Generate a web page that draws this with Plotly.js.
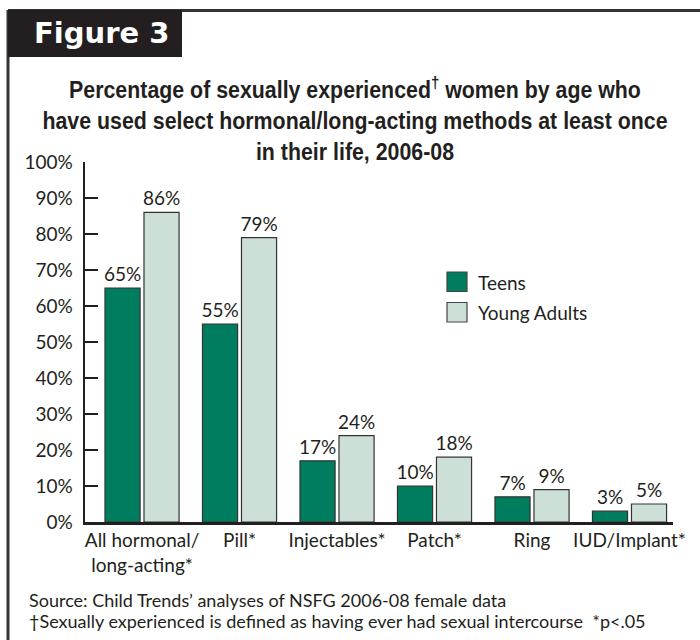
<!DOCTYPE html>
<html>
<head>
<meta charset="utf-8">
<script src="https://cdn.plot.ly/plotly-3.0.1.min.js"></script>
<style>html,body{margin:0;padding:0;background:#fff;}#chart{width:700px;height:640px;}</style>
</head>
<body>
<div id="chart"></div>
<script>
// ---- data ----
const categories = ['All hormonal/<br>long-acting*', 'Pill*', 'Injectables*', 'Patch*', 'Ring', 'IUD/Implant*'];
const teens = [65, 55, 17, 10, 7, 3];
const youngAdults = [86, 79, 24, 18, 9, 5];
const seriesNames = ['Teens', 'Young Adults'];
const yTickVals = [0, 10, 20, 30, 40, 50, 60, 70, 80, 90, 100];
const yTickText = ['0%', '10%', '20%', '30%', '40%', '50%', '60%', '70%', '80%', '90%', '100%'];
const boundaryTicks = [0.5, 1.5, 2.5, 3.5, 4.5, 5.446];

const titleText = 'Percentage of sexually experienced<sup>†</sup> women by age who<br>have used select hormonal/long-acting methods at least once<br>in their life, 2006-08';
const figureLabel = 'Figure 3';
const sourceNote = 'Source: Child Trends’ analyses of NSFG 2006-08 female data';
const defNote = '†Sexually experienced is defined as having ever had sexual intercourse  *p&lt;.05';

// ---- style ----
const colTeens = '#007d5f';
const colYoung = '#cce0d8';
const ink = '#231f20';
const txtFont = 'Lato, "Open Sans", sans-serif';
const titleFont = '"Liberation Sans", Arial, sans-serif';
const titleCenter = 355;
const titleSqueeze = 0.89;

const W = 700, H = 640, L = 85, R = 673, T = 162, B = 522;
const px = x => (x - L) / (R - L);
const py = y => (B - y) / (B - T);

const pct = v => v + '%';

const barCommon = {
  type: 'bar', x: categories, textposition: 'outside', texttemplate: '%{text}',
  textfont: {family: txtFont, size: 19, color: ink}, cliponaxis: false,
  constraintext: 'none', showlegend: false, hoverinfo: 'skip'
};

const traces = [
  Object.assign({}, barCommon, {name: seriesNames[0], y: teens, text: teens.map(pct),
    marker: {color: colTeens, line: {color: '#333333', width: 1.2}}}),
  Object.assign({}, barCommon, {name: seriesNames[1], y: youngAdults, text: youngAdults.map(pct),
    marker: {color: colYoung, line: {color: '#333333', width: 1.2}}})
];

const legendSwatches = [colTeens, colYoung];
const shapes = [
  {type: 'line', xref: 'paper', yref: 'paper', x0: px(8), x1: px(700), y0: py(10.5), y1: py(10.5), line: {color: '#333', width: 3}},
  {type: 'line', xref: 'paper', yref: 'paper', x0: px(8), x1: px(8), y0: py(10), y1: py(640), line: {color: '#333', width: 3}},
  {type: 'rect', xref: 'paper', yref: 'paper', x0: px(8), x1: px(182), y0: py(10), y1: py(57), fillcolor: ink, line: {width: 0}}
];
legendSwatches.forEach((c, i) => {
  const top = 272 + i * 30.5;
  shapes.push({type: 'rect', xref: 'paper', yref: 'paper', x0: px(447), x1: px(467), y0: py(top), y1: py(top + 19.5),
    fillcolor: c, line: {color: '#444', width: 1.2}});
});

const annotations = [
  {text: figureLabel, xref: 'paper', yref: 'paper', x: px(101), y: py(33), xanchor: 'center', yanchor: 'middle',
    showarrow: false, font: {family: '"DejaVu Sans", sans-serif', size: 29, color: '#ffffff', weight: 'bold'}},
  {text: sourceNote, xref: 'paper', yref: 'paper', x: px(27), y: py(600), xanchor: 'left', yanchor: 'middle',
    showarrow: false, font: {family: txtFont, size: 18, color: ink}},
  {text: defNote, xref: 'paper', yref: 'paper', x: px(27), y: py(621), xanchor: 'left', yanchor: 'middle',
    showarrow: false, font: {family: txtFont, size: 18, color: ink}}
];
seriesNames.forEach((n, i) => {
  annotations.push({text: n, xref: 'paper', yref: 'paper', x: px(476), y: py(282 + i * 30.5), xanchor: 'left', yanchor: 'middle',
    showarrow: false, font: {family: txtFont, size: 19, color: ink}});
});

const layout = {
  width: W, height: H,
  margin: {l: L, r: W - R, t: T, b: H - B, pad: 0},
  paper_bgcolor: '#ffffff', plot_bgcolor: '#ffffff',
  title: {text: titleText, xref: 'container', yref: 'container', x: titleCenter / W, xanchor: 'center',
    y: 1 - 98 / H, yanchor: 'top',
    font: {family: titleFont, size: 24, color: ink, weight: 'bold'}},
  barmode: 'group', bargap: 0.2, bargroupgap: 0.1,
  xaxis: {type: 'category', range: [-0.585, 5.446], showline: true, linecolor: ink, linewidth: 2.5,
    ticks: '', showgrid: false, zeroline: false, tickfont: {family: txtFont, size: 19, color: ink},
    ticklabelstandoff: 0, fixedrange: true},
  xaxis2: {type: 'linear', overlaying: 'x', anchor: 'y', range: [-0.585, 5.446], tickmode: 'array', tickvals: boundaryTicks,
    ticks: 'inside', ticklen: 8, tickwidth: 2.5, tickcolor: ink, showticklabels: false, showgrid: false,
    zeroline: false, showline: false},
  yaxis: {range: [0, 100], tickmode: 'array', tickvals: yTickVals, ticktext: yTickText, ticks: 'inside', ticklen: 13,
    tickwidth: 2.5, tickcolor: ink, showline: true, linecolor: ink, linewidth: 2.5, showgrid: false, zeroline: false,
    tickfont: {family: txtFont, size: 19, color: ink}, ticklabelstandoff: 6, fixedrange: true},
  shapes: shapes,
  annotations: annotations
};

Plotly.newPlot('chart', traces, layout, {staticPlot: true, displayModeBar: false}).then(() => {
  // emulate the condensed display face of the original title
  const t = document.querySelector('#chart .gtitle');
  if (t) {
    t.setAttribute('transform',
      'translate(' + titleCenter + ',0) scale(' + titleSqueeze + ',1) translate(' + (-titleCenter) + ',0)');
  }
});
</script>
</body>
</html>
